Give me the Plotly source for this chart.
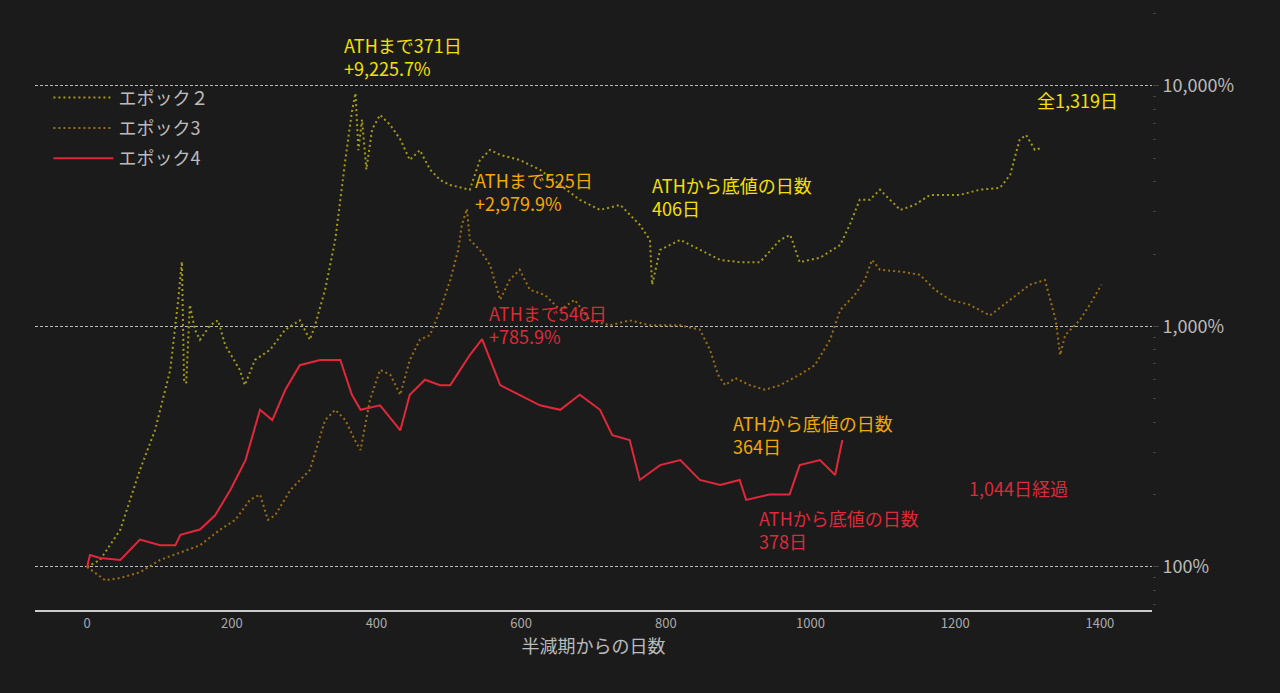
import math
import plotly.graph_objects as go

e2_days = [0,18,46,73,94,115,126,131,134,137,142,149,156,170,181,191,211,218,232,253,274,294,308,315,329,343,357,366,371,375,380,386,394,405,419,433,446,460,474,488,502,529,543,557,571,598,626,654,681,709,737,764,778,781,792,820,847,875,902,930,958,972,985,1013,1041,1054,1068,1082,1096,1124,1144,1165,1206,1234,1262,1276,1289,1298,1310,1319]
e2_vals = [100,107,143,253,371,660,1290,1860,600,580,1230,970,880,1010,1060,835,660,570,725,800,970,1060,880,1010,1420,2290,4920,7800,9326,5400,7240,4490,6600,7570,6880,5990,4920,5400,4490,4060,3870,3700,4920,5420,5160,4920,4480,3870,3360,3050,3200,2640,2290,1490,2080,2290,2080,1890,1850,1850,2290,2400,1850,1930,2180,2640,3360,3360,3700,3050,3200,3520,3520,3700,3770,4270,5970,6250,5420,5520]

e3_days = [0,25,46,73,101,129,156,184,205,225,239,250,260,281,308,329,343,357,370,378,391,405,419,433,446,460,474,488,502,513,518,525,529,543,557,571,584,598,612,633,654,674,695,723,750,778,820,847,861,872,882,896,916,937,958,985,1006,1027,1041,1061,1075,1085,1096,1124,1151,1172,1193,1220,1248,1276,1303,1324,1331,1339,1345,1352,1372,1386,1402]
e3_vals = [100,88,90,95,107,115,123,143,157,190,200,157,164,209,253,408,450,408,337,306,495,660,630,520,725,880,920,1170,1560,2080,2640,3080,2290,2080,1800,1290,1560,1720,1420,1350,1170,1290,1060,1010,1060,1010,1010,970,800,630,570,610,570,545,570,630,690,880,1170,1350,1560,1890,1720,1690,1640,1420,1290,1230,1110,1290,1490,1560,1290,1060,760,920,1060,1230,1490]

e4_days = [0,4,18,46,73,101,122,129,156,177,198,219,239,256,274,294,322,350,366,378,405,433,446,467,488,502,529,546,571,598,626,654,681,709,726,750,764,792,820,847,875,902,911,943,971,985,1013,1034,1044]
e4_vals = [100,112,109,107,130,123,123,136,143,164,209,278,450,408,545,690,725,725,520,450,470,370,520,600,570,570,760,886,570,520,470,450,520,450,353,337,230,265,278,230,219,230,190,200,200,265,278,241,337]

names = ["エポック２", "エポック3", "エポック4"]
C2, C3, C4 = "#a59c12", "#9c6e12", "#e0283a"
T2, T3, T4 = "#f5e000", "#f5a800", "#dd2a3a"
font = "Noto Sans CJK JP"

fig = go.Figure()
fig.add_trace(go.Scatter(x=e2_days, y=e2_vals, name=names[0], legendgroup="a", mode="lines", line=dict(color=C2, width=2, dash="2px,3px")))
fig.add_trace(go.Scatter(x=e3_days, y=e3_vals, name=names[1], legendgroup="b", mode="lines", line=dict(color=C3, width=2, dash="2px,3px")))
fig.add_trace(go.Scatter(x=e4_days, y=e4_vals, name=names[2], legendgroup="c", mode="lines", line=dict(color=C4, width=2)))

anns = [
    (352, 13200, "ATHまで371日<br>+9,225.7%", T2, "left"),
    (1428, 8770, "全1,319日", T2, "right"),
    (778, 3480, "ATHから底値の日数<br>406日", T2, "left"),
    (533, 3630, "ATHまで525日<br>+2,979.9%", T3, "left"),
    (1479, 2180, "全1,402日", T3, "right"),
    (890, 357, "ATHから底値の日数<br>364日", T3, "left"),
    (553, 1015, "ATHまで546日<br>+785.9%", T4, "left"),
    (1358, 213, "1,044日経過", T4, "right"),
    (926, 143, "ATHから底値の日数<br>378日", T4, "left"),
]
for x, y, t, c, a in anns:
    fig.add_annotation(x=x, y=math.log10(y), yref="y", xref="x", text=t, showarrow=False, xanchor=a, yanchor="middle",
                       align="left", font=dict(color=c, size=18, family=font))

minor_vals = [m * 10**e for e in (1, 2, 3, 4) for m in range(2, 10)]

fig.update_layout(
    width=1280, height=693, paper_bgcolor="#1b1b1b", plot_bgcolor="#1b1b1b",
    margin=dict(l=35, r=128, t=0, b=83),
    font=dict(family=font, color="#bbbbbb"),
    legend=dict(x=0.012, y=0.87, xanchor="left", yanchor="top", bgcolor="rgba(0,0,0,0)",
                font=dict(size=18, color="#bbbbbb"), itemwidth=60, tracegroupgap=4),
    xaxis=dict(range=[-72, 1472], tickvals=[0,200,400,600,800,1000,1200,1400], showgrid=False, zeroline=False,
               showline=True, linecolor="#cccccc", linewidth=2, tickfont=dict(size=13, color="#aaaaaa"),
               title=dict(text="半減期からの日数", font=dict(size=18, color="#bbbbbb"), standoff=8)),
    yaxis=dict(type="log", range=[1.821, 4.357], side="right", tickvals=[100,1000,10000],
               ticktext=["100%","1,000%","10,000%"], tickfont=dict(size=18, color="#bbbbbb"),
               showgrid=True, gridcolor="#bbbbbb", griddash="3px,2px", gridwidth=1, zeroline=False,
               ticks="outside", ticklen=6, tickcolor="#444444",
               minor=dict(tickvals=minor_vals, ticks="outside", ticklen=3, tickcolor="#444444", showgrid=False)),
)
fig.write_html("out.html", config={"displayModeBar": False}, post_script="document.body.style.margin='0';")
